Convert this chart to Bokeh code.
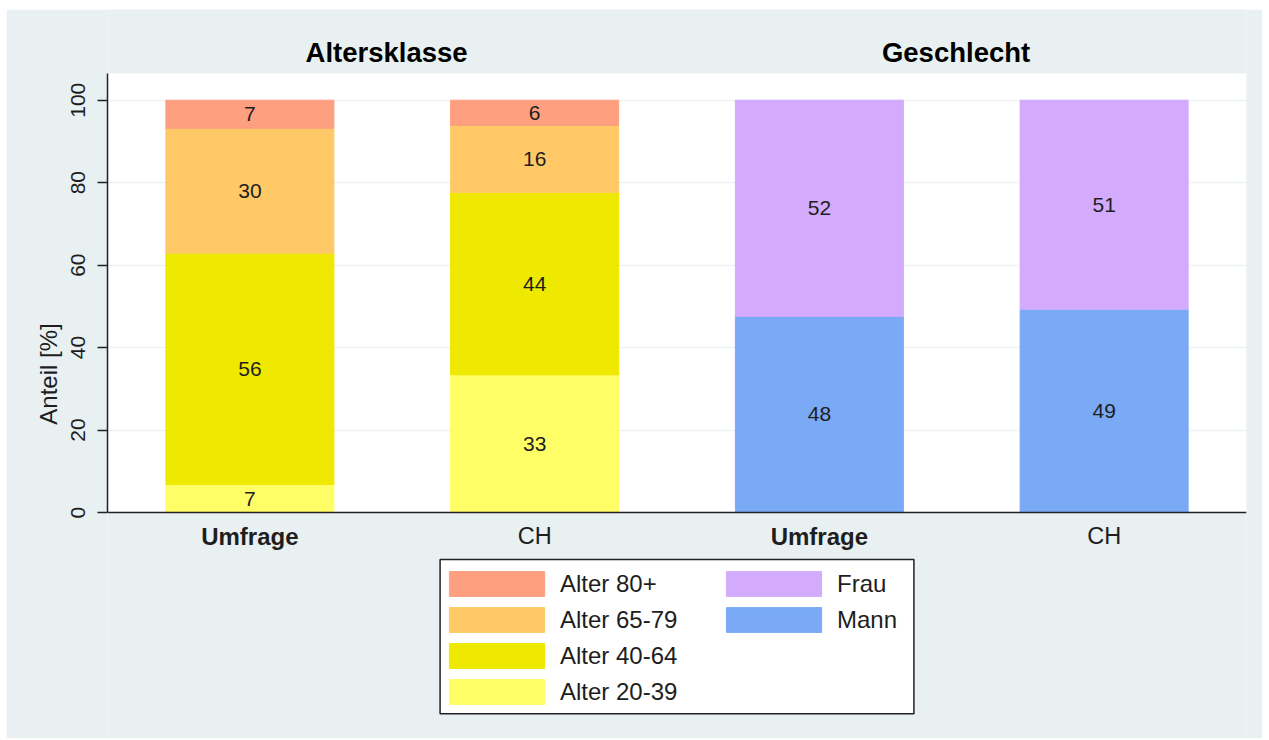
from bokeh.plotting import figure
from bokeh.models import (ColumnDataSource, Legend, LegendItem, Span,
                          BoxAnnotation, FixedTicker, Range1d)
from bokeh.embed import file_html
from bokeh.resources import INLINE
from bokeh.core.properties import value

# ---------------- data ----------------
groups = ["Altersklasse", "Geschlecht"]
sources = ["Umfrage", "CH"]
age_classes = ["Alter 20-39", "Alter 40-64", "Alter 65-79", "Alter 80+"]
age_umfrage = [6.8, 56.1, 30.3, 6.8]
age_ch = [33.4, 44.2, 16.3, 6.1]
gender_classes = ["Mann", "Frau"]
gender_umfrage = [47.6, 52.4]
gender_ch = [49.3, 50.7]
y_ticks = [0, 20, 40, 60, 80, 100]

# ---------------- style / layout ----------------
FONT = "Liberation Sans"
BG = "#e8f0f2"
TXT = "#1e1e1e"
age_colors = ["#fffe66", "#efe800", "#fec966", "#fe9f80"]
gender_colors = ["#7aaaf5", "#d4aafd"]
BAR_W = 0.59
PLOT_TOP = 106.5          # top of the white plotting area
TITLE_Y = 111.5           # group titles above the plotting area
TITLE_DX = -0.02          # small horizontal shift of group titles
CAT_Y = -5.8              # category labels below the bars
Y_LO, Y_HI = -54.8, 122.0 # full vertical extent of the frame

n_bars = len(groups) * len(sources)
bar_x = list(range(n_bars))
age_x = bar_x[:len(sources)]
gen_x = bar_x[len(sources):]

p = figure(width=1256, height=729,
           x_range=Range1d(-0.5, n_bars - 0.5), y_range=Range1d(Y_LO, Y_HI),
           output_backend="svg", toolbar_location=None, x_axis_location=None,
           min_border_left=101, min_border_right=16,
           min_border_top=0, min_border_bottom=0)
p.margin = (9, 0, 0, 6)
p.background_fill_color = BG
p.border_fill_color = BG
p.outline_line_color = None

# white plotting area
p.quad(left=-0.5, right=n_bars - 0.5, bottom=0, top=PLOT_TOP,
       fill_color="white", line_color=None, level="image")

# bars
age_src = ColumnDataSource(dict(x=age_x, **{c: [age_umfrage[i], age_ch[i]]
                                             for i, c in enumerate(age_classes)}))
age_r = p.vbar_stack(age_classes, x="x", width=BAR_W, color=age_colors,
                     source=age_src)
gen_src = ColumnDataSource(dict(x=gen_x, **{c: [gender_umfrage[i], gender_ch[i]]
                                             for i, c in enumerate(gender_classes)}))
gen_r = p.vbar_stack(gender_classes, x="x", width=BAR_W, color=gender_colors,
                     source=gen_src)

# value labels
lx, ly, lt = [], [], []
for xs, series in ((age_x, (age_umfrage, age_ch)), (gen_x, (gender_umfrage, gender_ch))):
    for xi, vals in zip(xs, series):
        base = 0
        for v in vals:
            lx.append(xi)
            ly.append(base + v / 2)
            lt.append(f"{round(v)}")
            base += v
p.text(x="x", y="y", text="t", source=ColumnDataSource(dict(x=lx, y=ly, t=lt)),
       text_align="center", text_baseline="middle", text_font=value(FONT),
       text_font_size="21px", text_color=TXT)

# group titles
gx = [sum(bar_x[gi * len(sources):(gi + 1) * len(sources)]) / len(sources) + TITLE_DX
      for gi in range(len(groups))]
p.text(x=gx, y=[TITLE_Y] * len(groups), text=groups, text_align="center",
       text_baseline="middle", text_font=value(FONT), text_font_size="27.5px",
       text_font_style="bold", text_color="black")

# category labels below bars
cat_labels = [sources[i % len(sources)] for i in bar_x]
bold_x = [x for x, s in zip(bar_x, cat_labels) if s == sources[0]]
norm_x = [x for x, s in zip(bar_x, cat_labels) if s != sources[0]]
p.text(x=bold_x, y=[CAT_Y] * len(bold_x), text=[sources[0]] * len(bold_x),
       text_align="center", text_baseline="middle", text_font=value(FONT),
       text_font_size="24px", text_font_style="bold", text_color=TXT)
p.text(x=norm_x, y=[CAT_Y] * len(norm_x), text=[sources[1]] * len(norm_x),
       text_align="center", text_baseline="middle", text_font=value(FONT),
       text_font_size="23.5px", text_font_style="normal", text_color=TXT)

# x baseline
p.add_layout(Span(location=0, dimension="width", line_color="#222222", line_width=1.5))

# y axis
p.yaxis.bounds = (0, PLOT_TOP)
p.yaxis.ticker = FixedTicker(ticks=y_ticks)
p.yaxis.major_label_orientation = "vertical"
p.yaxis.major_label_text_font = FONT
p.yaxis.major_label_text_font_size = "21px"
p.yaxis.major_label_text_color = TXT
p.yaxis.major_label_standoff = 12
p.yaxis.major_tick_out = 10
p.yaxis.major_tick_in = 0
p.yaxis.major_tick_line_color = "#222222"
p.yaxis.major_tick_line_width = 1.5
p.yaxis.minor_tick_line_color = None
p.yaxis.axis_line_color = "#222222"
p.yaxis.axis_line_width = 1.5
p.yaxis.axis_label = "Anteil [%]"
p.yaxis.axis_label_text_font = FONT
p.yaxis.axis_label_text_font_size = "24px"
p.yaxis.axis_label_text_font_style = "normal"
p.yaxis.axis_label_text_color = TXT
p.yaxis.axis_label_standoff = 7
p.xgrid.grid_line_color = None
p.ygrid.ticker = FixedTicker(ticks=y_ticks)
p.ygrid.grid_line_color = "#edf2f4"
p.ygrid.grid_line_width = 1.5

# legend box
p.add_layout(BoxAnnotation(left=0.668, right=2.332, top=-11.4, bottom=-48.8,
                           fill_color="white", fill_alpha=1.0,
                           line_color="#222222", line_width=1.5, line_alpha=1.0))

common = dict(glyph_width=119, glyph_height=31, spacing=5, padding=0, margin=0,
              label_standoff=4, label_text_font=FONT, label_text_font_size="24px",
              label_text_color=TXT, border_line_alpha=0, background_fill_alpha=0)
leg1 = Legend(items=[LegendItem(label=value(age_classes[i]), renderers=[age_r[i]])
                     for i in reversed(range(len(age_classes)))],
              location=(330, 31), **common)
leg2 = Legend(items=[LegendItem(label=value(gender_classes[i]), renderers=[gen_r[i]])
                     for i in reversed(range(len(gender_classes)))],
              location=(607, 103), **common)
p.add_layout(leg1)
p.add_layout(leg2)

open("out.html", "w").write(file_html(p, INLINE))
